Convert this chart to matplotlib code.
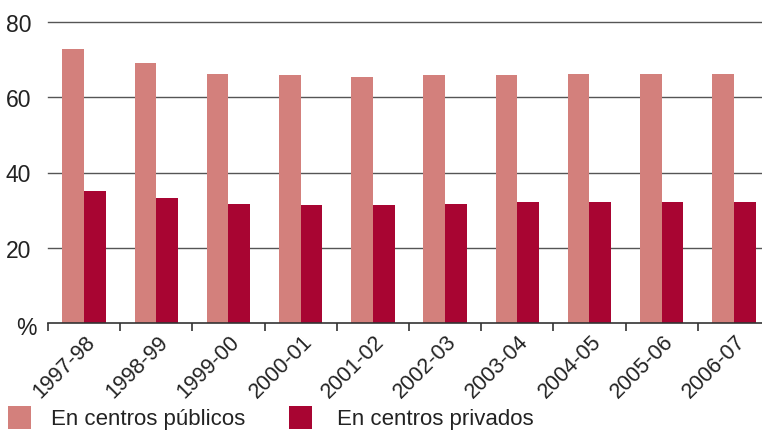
import matplotlib
matplotlib.use("Agg")
import matplotlib.pyplot as plt
import matplotlib.transforms as mtransforms
from matplotlib.patches import Rectangle
import numpy as np

categories = ["1997-98", "1998-99", "1999-00", "2000-01", "2001-02",
              "2002-03", "2003-04", "2004-05", "2005-06", "2006-07"]
publicos = [72.8, 69.1, 66.2, 65.9, 65.4, 65.9, 65.9, 66.2, 66.2, 66.2]
privados = [35.1, 33.3, 31.7, 31.4, 31.4, 31.7, 32.2, 32.2, 32.2, 32.2]
series_labels = ["En centros públicos", "En centros privados"]
ytick_vals = [0, 20, 40, 60, 80]
ytick_labels = ["%", "20", "40", "60", "80"]

c_pub = "#D3807C"
c_priv = "#A80532"
txt_col = "#222222"

plt.rcParams['font.family'] = ['Liberation Sans', 'DejaVu Sans']

W, H = 762, 431
fig = plt.figure(figsize=(W / 100, H / 100), dpi=100)
ax = fig.add_axes([48 / W, 107 / H, 1 - 48 / W, (324 - 23) / H])

x = np.arange(len(categories))
bw = 0.3
ax.bar(x - bw / 2, publicos, bw, color=c_pub, zorder=3)
ax.bar(x + bw / 2, privados, bw, color=c_priv, zorder=3)

ax.set_ylim(0, 80)
ax.set_xlim(-0.5, 9.39)

for v in ytick_vals[1:]:
    ax.axhline(v, color="#555555", lw=1.0, zorder=1, clip_on=False)

for s in ["top", "right", "left"]:
    ax.spines[s].set_visible(False)
ax.spines["bottom"].set_color("#333333")
ax.spines["bottom"].set_linewidth(1.2)
ax.spines["bottom"].set_zorder(4)

ax.set_yticks(ytick_vals)
ax.set_yticklabels(ytick_labels, fontsize=16.5, color=txt_col)
ax.tick_params(axis="y", length=0, pad=12)
pct_shift = mtransforms.ScaledTranslation(5 / 100, -2 / 100, fig.dpi_scale_trans)
pct = ax.get_yticklabels()[0]
pct.set_transform(pct.get_transform() + pct_shift)

ax.set_xticks(np.arange(-0.5, 9.0, 1.0))
ax.set_xticklabels([])
ax.tick_params(axis="x", which="major", length=6, width=1.2, color="#333333", direction="out")
ax.set_xticks(x, minor=True)
ax.set_xticklabels(categories, minor=True, rotation=45, ha="right", va="center",
                   rotation_mode="anchor", fontsize=15.5, color=txt_col)
ax.tick_params(axis="x", which="minor", length=0, pad=11)
shift = mtransforms.ScaledTranslation(6 / 72, 0, fig.dpi_scale_trans)
for lab in ax.get_xticklabels(minor=True):
    lab.set_transform(lab.get_transform() + shift)

# legend (drawn in pixel positions of the figure)
sq = 23
leg_items = [(8, 51, c_pub, series_labels[0]), (289, 337, c_priv, series_labels[1])]
for sx, tx, col, lab in leg_items:
    fig.add_artist(Rectangle((sx / W, (H - 430) / H), sq / W, sq / H,
                             transform=fig.transFigure, facecolor=col, edgecolor="none"))
    fig.text(tx / W, 5.5 / H, lab, fontsize=16, color=txt_col, ha="left", va="baseline")

fig.savefig("out.png", dpi=100)
